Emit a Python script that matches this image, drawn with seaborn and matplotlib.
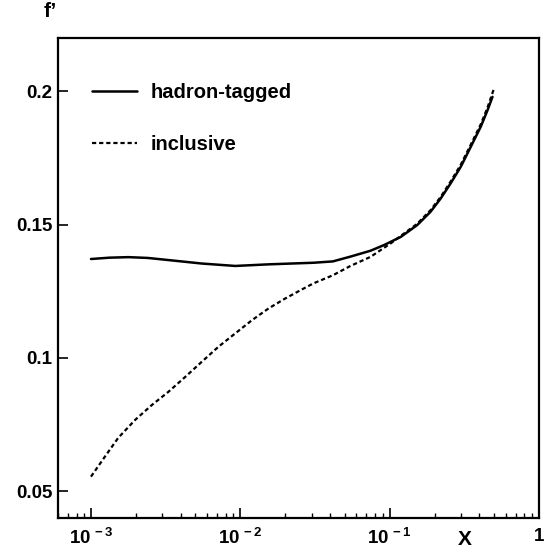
import matplotlib
matplotlib.use("Agg")
import matplotlib.pyplot as plt
import matplotlib.ticker as mticker
import seaborn as sns
import pandas as pd

# f' versus x for the two event selections
x_hadron = [0.001, 0.00133, 0.00178, 0.00240, 0.00331, 0.00553, 0.00925,
            0.0155, 0.0310, 0.0417, 0.0547, 0.0745, 0.0916, 0.119, 0.153,
            0.188, 0.220, 0.256, 0.300, 0.350, 0.408, 0.453, 0.489]
f_hadron = [0.1371, 0.1376, 0.1378, 0.1375, 0.1367, 0.1354, 0.1345,
            0.1351, 0.1357, 0.1362, 0.1380, 0.1402, 0.1423, 0.1454, 0.1498,
            0.1548, 0.1598, 0.1654, 0.1717, 0.1792, 0.1867, 0.1929, 0.1979]

x_inclusive = [0.001, 0.00124, 0.00152, 0.00197, 0.00255, 0.00330, 0.00428,
               0.00553, 0.00714, 0.00925, 0.0120, 0.0155, 0.0200, 0.0259,
               0.0310, 0.0417, 0.0547, 0.0745, 0.102, 0.119, 0.153, 0.188,
               0.220, 0.256, 0.300, 0.350, 0.408, 0.453, 0.501]
f_inclusive = [0.0555, 0.0630, 0.0700, 0.0767, 0.0823, 0.0873, 0.0929,
               0.0986, 0.1042, 0.1092, 0.1142, 0.1186, 0.1223, 0.1257,
               0.1280, 0.1310, 0.1345, 0.1379, 0.1430, 0.1458, 0.1503, 0.1554,
               0.1604, 0.1661, 0.1725, 0.1800, 0.1876, 0.1939, 0.2011]

series_labels = ["hadron-tagged", "inclusive"]
y_ticks = [0.05, 0.1, 0.15, 0.2]
y_tick_labels = ["0.05", "0.1", "0.15", "0.2"]
x_ticks = [0.001, 0.01, 0.1, 1.0]
x_tick_labels = [r"$10^{\,-3}$", r"$10^{\,-2}$", r"$10^{\,-1}$", "1"]

sns.set_theme(style="ticks")
plt.rcParams["font.family"] = ["Liberation Sans", "DejaVu Sans"]
plt.rcParams["font.weight"] = "bold"
plt.rcParams["axes.labelweight"] = "bold"
plt.rcParams["mathtext.fontset"] = "custom"
plt.rcParams["mathtext.rm"] = "Liberation Sans:bold"
plt.rcParams["mathtext.it"] = "Liberation Sans:bold"
plt.rcParams["mathtext.bf"] = "Liberation Sans:bold"
plt.rcParams["mathtext.default"] = "regular"
for key in ["text.color", "axes.labelcolor", "xtick.color", "ytick.color",
            "axes.edgecolor"]:
    plt.rcParams[key] = "black"

fig = plt.figure(figsize=(5.51, 5.55), dpi=100)
ax = fig.add_axes([0.105, 0.0667, 0.873, 0.865])

df_h = pd.DataFrame({"x": x_hadron, "f": f_hadron})
df_i = pd.DataFrame({"x": x_inclusive, "f": f_inclusive})

sns.lineplot(data=df_h, x="x", y="f", ax=ax, color="black", linewidth=1.8,
             label=series_labels[0])
sns.lineplot(data=df_i, x="x", y="f", ax=ax, color="black", linewidth=1.6,
             linestyle=(0, (1.9, 1.3)), label=series_labels[1])

ax.set_xscale("log")
ax.set_xlim(6e-4, 1.0)
ax.set_ylim(0.04, 0.22)

ax.xaxis.set_major_locator(mticker.FixedLocator(x_ticks))
ax.xaxis.set_major_formatter(mticker.FixedFormatter(x_tick_labels))
ax.xaxis.set_minor_locator(mticker.LogLocator(base=10, subs=range(2, 10), numticks=20))
ax.xaxis.set_minor_formatter(mticker.NullFormatter())
ax.yaxis.set_major_locator(mticker.FixedLocator(y_ticks))
ax.yaxis.set_major_formatter(mticker.FixedFormatter(y_tick_labels))

ax.tick_params(axis="both", which="major", direction="in", length=7, width=1.2,
               labelsize=13.5, colors="black")
ax.tick_params(axis="x", which="major", pad=7)
ax.tick_params(axis="y", which="major", pad=4)
ax.tick_params(axis="x", which="minor", direction="in", length=3.5, width=1.0)
ax.tick_params(top=False, right=False)

for side in ["left", "right", "top", "bottom"]:
    ax.spines[side].set_visible(True)
    ax.spines[side].set_linewidth(1.6)
    ax.spines[side].set_color("black")

ax.set_xlabel("X", fontsize=15, fontweight="bold", color="black")
ax.xaxis.set_label_coords(0.846, -0.025)
ax.xaxis.label.set_va("top")
ax.set_ylabel("f\u2019", fontsize=15, fontweight="bold", rotation=0, color="black")
ax.yaxis.set_label_coords(-0.015, 1.035)
ax.yaxis.label.set_va("bottom")

ax.legend(loc="upper left", bbox_to_anchor=(0.055, 0.922), frameon=False,
          fontsize=14.5, handlelength=2.2, handletextpad=0.7, labelspacing=1.6,
          borderaxespad=0.0)

fig.savefig("out.png", dpi=100)
